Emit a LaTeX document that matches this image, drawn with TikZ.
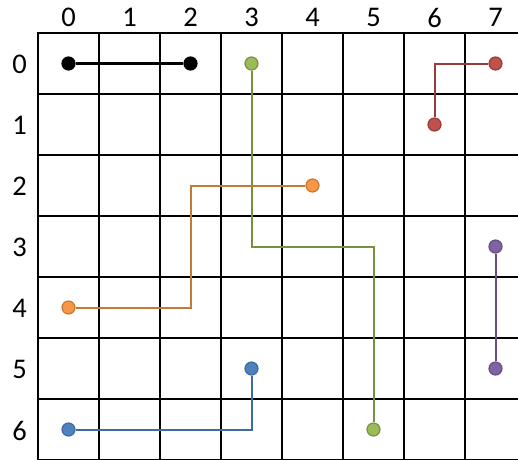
\documentclass[tikz,border=0pt]{standalone}
\usepackage{fontspec}
\setmainfont{Carlito}
\definecolor{gfill}{HTML}{9BBB59}\definecolor{glin}{HTML}{76933C}
\definecolor{rfill}{HTML}{C0504D}\definecolor{rlin}{HTML}{983B39}
\definecolor{bfill}{HTML}{4F81BD}\definecolor{blin}{HTML}{3F6BA3}
\definecolor{ofill}{HTML}{F79646}\definecolor{olin}{HTML}{C27A38}
\definecolor{pfill}{HTML}{8064A2}\definecolor{plin}{HTML}{654D86}
\begin{document}
\begin{tikzpicture}[x=1pt,y=-1pt,
  gridline/.style={line width=2pt,black},
  lab/.style={font=\fontsize{28.5}{30}\selectfont,inner sep=0pt},
  mk/.style n args={2}{circle,minimum size=13pt,inner sep=0pt,fill=#1,draw=#2,line width=1.2pt},
  conn/.style={line width=2pt,color=#1}]
\useasboundingbox (0,0) rectangle (518,459);
\clip (0,0) rectangle (518,459);
\fill[white] (0,0) rectangle (518,459);
\foreach \i in {0,...,8} \draw[gridline] (38+61*\i,33) -- (38+61*\i,470);
\foreach \j in {0,...,7} \draw[gridline] (37,33+61*\j) -- (530,33+61*\j);
\foreach \c in {0,...,7} \node[lab] (col\c) at (68.5+61*\c,17.5) {\c};
\foreach \r in {0,...,6} \node[lab] (row\r) at (19.5,64.5+61*\r) {\r};
% markers
\node[mk={black}{black}] (k1) at (68.5,63.5) {};
\node[mk={black}{black}] (k2) at (190.5,63.5) {};
\node[mk={gfill}{glin}] (g1) at (251.5,63.5) {};
\node[mk={gfill}{glin}] (g2) at (373.5,429.5) {};
\node[mk={rfill}{rlin}] (r1) at (495.5,63.5) {};
\node[mk={rfill}{rlin}] (r2) at (434.5,124.5) {};
\node[mk={ofill}{olin}] (o1) at (312.5,185.5) {};
\node[mk={ofill}{olin}] (o2) at (68.5,307.5) {};
\node[mk={pfill}{plin}] (p1) at (495.5,246.5) {};
\node[mk={pfill}{plin}] (p2) at (495.5,368.5) {};
\node[mk={bfill}{blin}] (b1) at (251.5,368.5) {};
\node[mk={bfill}{blin}] (b2) at (68.5,429.5) {};
\coordinate (gc) at (312.5,246.5);
\coordinate (oc) at (190.5,246.5);
% connectors
\draw[line width=3.5pt] (k1) -- (k2);
\draw[conn=glin] (g1) |- (gc) -| (g2);
\draw[conn=rlin] (r1) -| (r2);
\draw[conn=olin] (o1) -| (oc) |- (o2);
\draw[conn=plin] (p1) -- (p2);
\draw[conn=blin] (b1) |- (b2);
\end{tikzpicture}
\end{document}
